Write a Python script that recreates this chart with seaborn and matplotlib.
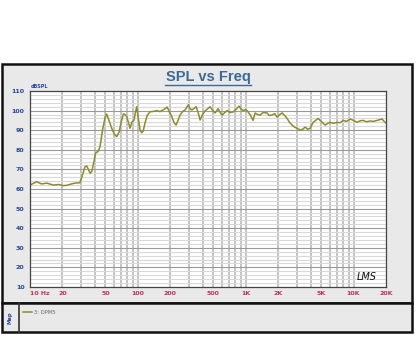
import seaborn as sns
import matplotlib.pyplot as plt
from matplotlib.patches import Rectangle
from matplotlib.lines import Line2D
from matplotlib.ticker import FixedLocator, NullFormatter
import pandas as pd
import numpy as np

# values (frequency in Hz, level in dB SPL)
freq = [10, 11.5, 12.8, 14.3, 16.5, 18.5, 20.4, 22, 23.5, 26.1, 29, 30.2, 32.4,
        33.6, 34.8, 36.1, 37.4, 39.5, 40.3, 41.5, 42.8, 44.6, 47, 49.5, 51.4,
        54, 57.2, 60.5, 63.7, 67, 70, 73.4, 76, 78.9, 84.7, 88.4, 92, 95, 97.7,
        101, 104.8, 108.6, 112, 116.6, 122, 129.8, 140, 149.7, 160, 171, 186.6,
        196, 206, 216, 226, 236, 246, 260, 276, 294, 305, 316, 330, 347, 362,
        378, 398, 420, 445, 467, 495, 520, 555, 580, 604, 640, 672, 720, 764,
        810, 868, 900, 946, 1000, 1053, 1110, 1171, 1222, 1290, 1360, 1450,
        1579, 1650, 1757, 1850, 1955, 2070, 2177, 2300, 2422, 2550, 2694, 2850,
        2998, 3198, 3380, 3558, 3750, 3958, 4220, 4450, 4697, 4900, 5116, 5458,
        5750, 6072, 6500, 7050, 7500, 8013, 8600, 9296, 10000, 10790, 11500,
        12270, 13200, 14250, 15300, 16550, 17500, 18400, 19200, 20000]
spl = [62, 63.7, 62.6, 63, 62, 62.3, 61.7, 61.9, 62.4, 63, 63.2, 66, 71.4,
       71.7, 70, 68, 69, 74.8, 78, 78.8, 79, 81.6, 90, 96, 98.3,
       95, 91, 88, 86.7, 89, 94, 98.3, 98, 97, 91, 94.3, 95, 99, 102,
       96, 90, 88.7, 89.5, 93.7, 97.5, 99.4, 99.6, 100, 99.5, 100.3, 101.8,
       99.5, 97, 94, 92.6, 95, 97.7, 99.5, 100.5, 103, 101, 100.3, 101, 102, 99,
       95.2, 98, 99.8, 101, 102, 100, 98.8, 101, 99, 97.7, 99, 100, 99, 99.3,
       100.5, 102.3, 101, 100, 100.5, 99.3, 97.5, 95, 98.8, 98, 97.7, 99,
       98.8, 97.5, 97.7, 98.5, 96.7, 98, 98.8, 97.5, 96, 94, 92.6, 91.5,
       91, 90, 90.5, 91.6, 90.5, 91, 94, 95, 96, 95, 94, 92.6,
       93.5, 94, 93.5, 94, 93.8, 95, 94.5, 95.7, 95, 94, 94.8,
       95, 94.3, 94.7, 94.5, 95, 95.3, 95.7, 94.5, 93.7]

xtick_vals = [10, 20, 50, 100, 200, 500, 1000, 2000, 5000, 10000, 20000]
xtick_text = ["10 Hz", "20", "50", "100", "200", "500", "1K", "2K", "5K", "10K", "20K"]
ytick_vals = list(range(10, 111, 10))

df = pd.DataFrame({"freq": freq, "spl": spl})

W, H = 416, 352
fig = plt.figure(figsize=(W / 100, H / 100), dpi=100)
fig.patch.set_facecolor("white")

# outer panels (chart frame and legend strip), kept behind the axes
fig.add_artist(Rectangle((2 / W, 1 - 303 / H), 410 / W, 239 / H, transform=fig.transFigure,
                         facecolor="#e9e9e9", edgecolor="#111111", linewidth=1.8, zorder=-5))
fig.add_artist(Rectangle((2 / W, 1 - 332 / H), 410 / W, 29 / H, transform=fig.transFigure,
                         facecolor="#e9e9e9", edgecolor="#111111", linewidth=1.8, zorder=-5))
fig.add_artist(Line2D([19 / W, 19 / W], [1 - 332 / H, 1 - 303 / H], transform=fig.transFigure,
                      color="#333333", linewidth=1.2, zorder=-4))

ax = fig.add_axes([30 / W, 1 - 287 / H, 356 / W, 196 / H])
ax.set_facecolor("white")

sns.lineplot(data=df, x="freq", y="spl", ax=ax, color="#8c8c2a", linewidth=1.1)

ax.set_xscale("log")
ax.set_xlim(10, 20000)
ax.set_ylim(10, 110)

# grid: minor horizontal every 2 dB, major every 10 dB, vertical at every log step
ax.set_yticks(ytick_vals)
vlines = [m * 10 ** d for d in range(1, 5) for m in range(1, 10) if 10 < m * 10 ** d < 20000]
ax.xaxis.set_major_locator(FixedLocator(xtick_vals))
ax.xaxis.set_minor_locator(FixedLocator(vlines))
ax.xaxis.set_minor_formatter(NullFormatter())
ax.set_xticklabels(xtick_text)
ax.grid(False)
for v in vlines:
    ax.axvline(v, color="#b4b4b4", linewidth=1.1, zorder=0)
for v in range(12, 110, 2):
    ax.axhline(v, color="#9a9a9a" if v % 10 == 0 else "#d9d9d9", linewidth=0.8, zorder=0)

ax.tick_params(axis="both", which="both", length=0)
ax.tick_params(axis="x", pad=3, labelsize=4.5, labelcolor="#c0305e")
ax.tick_params(axis="y", pad=4, labelsize=4.5, labelcolor="#24479a")
for lab in ax.get_xticklabels() + ax.get_yticklabels():
    lab.set_fontweight("bold")
ax.get_xticklabels()[0].set_horizontalalignment("left")
ax.set_xlabel("")
ax.set_ylabel("")
for s in ax.spines.values():
    s.set_color("#444444")
    s.set_linewidth(0.9)

# title with underline
fig.text(208 / W, 1 - 77 / H, "SPL vs Freq", ha="center", va="center",
         fontsize=10.5, color="#3b6a94", fontweight="bold", family="Liberation Sans")
fig.add_artist(Line2D([165 / W, 251 / W], [1 - 85 / H, 1 - 85 / H], transform=fig.transFigure,
                      color="#3b6a94", linewidth=1.0))

fig.text(31 / W, 1 - 86 / H, "dBSPL", ha="left", va="center", fontsize=3.5,
         color="#24479a", fontweight="bold")
ax.text(0.975, 0.025, "LMS", transform=ax.transAxes, ha="right", va="bottom",
        fontsize=7, fontstyle="italic", color="#111111")

# legend strip
fig.add_artist(Line2D([23 / W, 32 / W], [1 - 312 / H, 1 - 312 / H], transform=fig.transFigure,
                      color="#8c8c2a", linewidth=1.1))
fig.text(34 / W, 1 - 312 / H, "3: DPM5", ha="left", va="center", fontsize=3.8, color="#666666")
fig.text(10 / W, 1 - 318 / H, "Map", ha="center", va="center", rotation=90,
         fontsize=3.8, color="#24479a", fontweight="bold")

fig.savefig("out.png", dpi=100, facecolor="white")
